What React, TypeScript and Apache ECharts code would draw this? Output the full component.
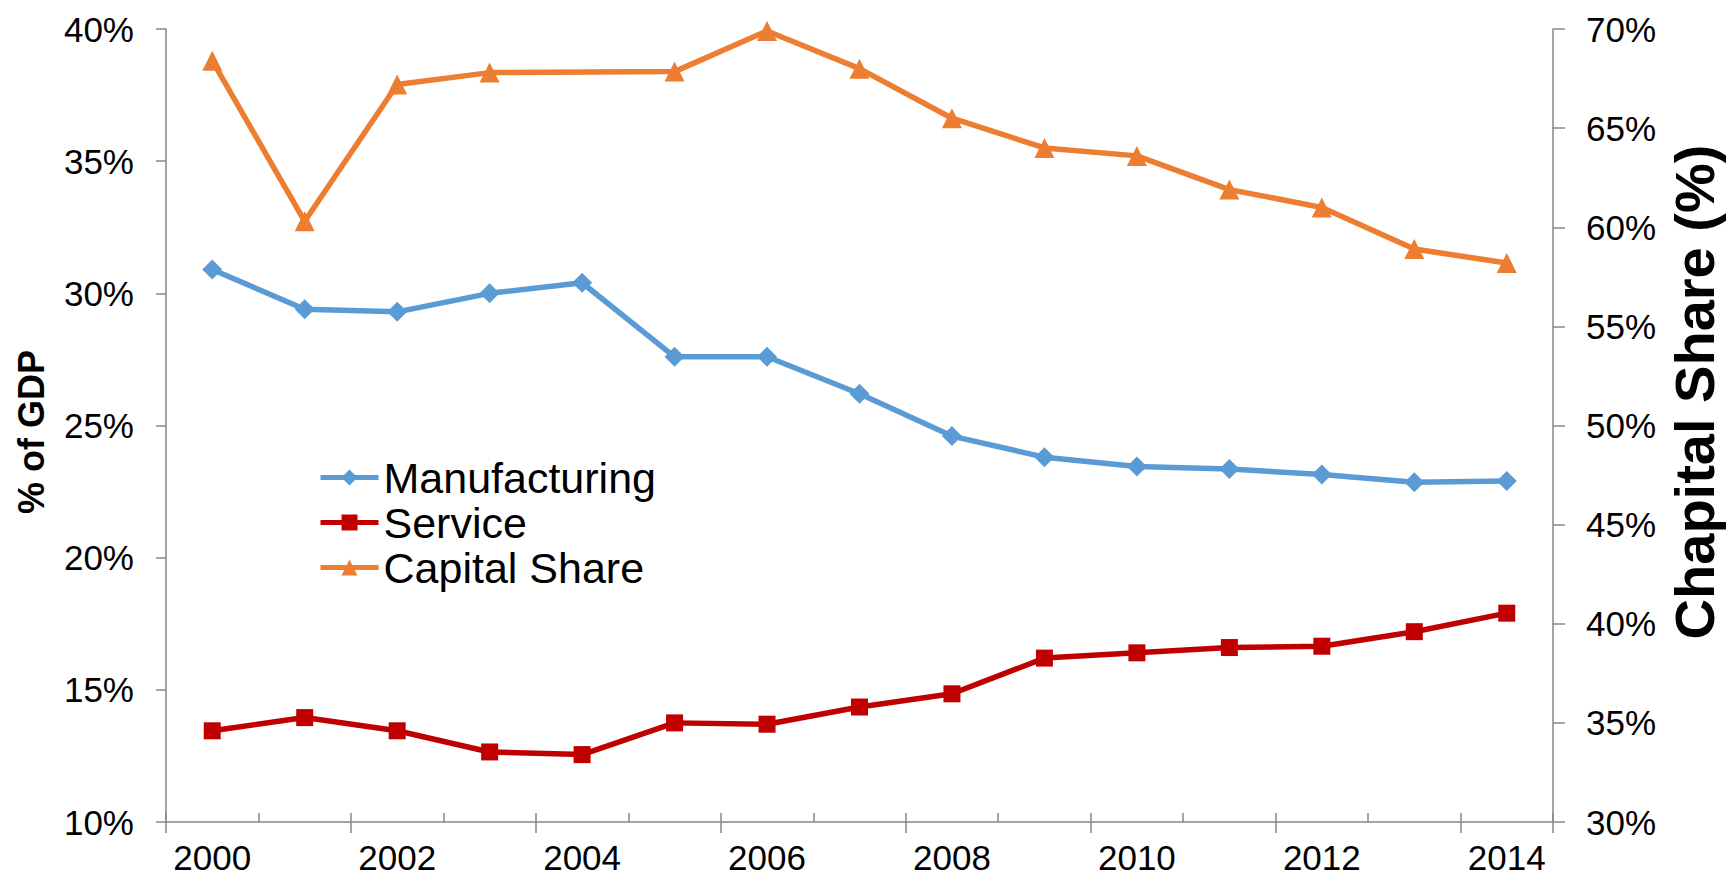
import React, { useEffect, useRef } from "react";
import * as echarts from "echarts";

const years = ["2000", "2001", "2002", "2003", "2004", "2005", "2006", "2007", "2008", "2009", "2010", "2011", "2012", "2013", "2014"];
const manufacturing = [30.9, 29.4, 29.3, 30.0, 30.4, 27.6, 27.6, 26.2, 24.6, 23.8, 23.45, 23.35, 23.15, 22.85, 22.9];
const service = [13.45, 13.95, 13.45, 12.65, 12.55, 13.75, 13.7, 14.35, 14.85, 16.2, 16.4, 16.6, 16.65, 17.2, 17.9];
const capitalShare = [68.4, 60.3, 67.2, 67.8, null, 67.85, 69.9, 68.0, 65.5, 64.0, 63.6, 61.9, 61.0, 58.9, 58.2];

const leftTitle = "% of GDP";
const rightTitle = "Chapital Share (%)";

const FONT = "'Liberation Sans', Arial, sans-serif";
const AXIS_COLOR = "#878787";

export default function App() {
  const ref = useRef<HTMLDivElement>(null);
  useEffect(() => {
    document.body.style.margin = "0";
    const chart = echarts.init(ref.current!, null, { renderer: "svg" });
    const axisLine = { show: true, lineStyle: { color: AXIS_COLOR, width: 1.5 } };
    chart.setOption({
      animation: false,
      backgroundColor: "#ffffff",
      grid: { left: 166, right: 176, top: 29, bottom: 63, containLabel: false },
      legend: {
        orient: "vertical",
        left: 313,
        top: 451,
        itemWidth: 58,
        itemHeight: 20,
        itemGap: 2,
        lineStyle: { width: 5 },
        textStyle: { fontFamily: FONT, fontSize: 43, lineHeight: 43, color: "#000" },
        data: ["Manufacturing", "Service", "Capital Share"],
      },
      xAxis: [
        {
          type: "category",
          data: years,
          position: "bottom",
          boundaryGap: true,
          axisLine,
          axisTick: { show: true, inside: true, length: 9, interval: 0, lineStyle: { color: AXIS_COLOR, width: 1.5 } },
          axisLabel: { interval: 1, margin: 18, fontFamily: FONT, fontSize: 35, color: "#000" },
          splitLine: { show: false },
        },
        {
          type: "category",
          data: years,
          position: "bottom",
          boundaryGap: true,
          axisLine: { show: false },
          axisTick: { show: true, inside: false, length: 11, interval: 1, lineStyle: { color: AXIS_COLOR, width: 1.5 } },
          axisLabel: { show: false },
          splitLine: { show: false },
        },
      ],
      yAxis: [
        {
          type: "value",
          min: 10,
          max: 40,
          interval: 5,
          position: "left",
          axisLine,
          axisTick: { show: true, inside: false, length: 10, lineStyle: { color: AXIS_COLOR, width: 1.5 } },
          axisLabel: { formatter: "{value}%", margin: 32, fontFamily: FONT, fontSize: 35, color: "#000" },
          splitLine: { show: false },
        },
        {
          type: "value",
          min: 30,
          max: 70,
          interval: 5,
          position: "right",
          axisLine,
          axisTick: { show: true, inside: false, length: 12, lineStyle: { color: AXIS_COLOR, width: 1.5 } },
          axisLabel: { formatter: "{value}%", margin: 33, fontFamily: FONT, fontSize: 35, color: "#000" },
          splitLine: { show: false },
        },
      ],
      graphic: [
        {
          type: "text",
          x: 31.5,
          y: 432,
          rotation: Math.PI / 2,
          style: { text: leftTitle, font: `bold 36px ${FONT}`, fill: "#000", textAlign: "center", textVerticalAlign: "middle" },
        },
        {
          type: "text",
          x: 1694,
          y: 392,
          rotation: Math.PI / 2,
          style: { text: rightTitle, font: `bold 56px ${FONT}`, fill: "#000", textAlign: "center", textVerticalAlign: "middle" },
        },
      ],
      series: [
        {
          name: "Manufacturing",
          type: "line",
          xAxisIndex: 0,
          yAxisIndex: 0,
          data: manufacturing,
          symbol: "diamond",
          symbolSize: 20,
          itemStyle: { color: "#5B9BD5" },
          lineStyle: { color: "#5B9BD5", width: 5.5 },
        },
        {
          name: "Service",
          type: "line",
          xAxisIndex: 0,
          yAxisIndex: 0,
          data: service,
          symbol: "rect",
          symbolSize: 17,
          itemStyle: { color: "#C00000" },
          lineStyle: { color: "#C00000", width: 5.5 },
        },
        {
          name: "Capital Share",
          type: "line",
          xAxisIndex: 0,
          yAxisIndex: 1,
          data: capitalShare,
          connectNulls: true,
          symbol: "triangle",
          symbolSize: 20,
          itemStyle: { color: "#ED7D31" },
          lineStyle: { color: "#ED7D31", width: 5.5 },
        },
      ],
    });
    return () => chart.dispose();
  }, []);
  return <div ref={ref} style={{ width: 1729, height: 885 }} />;
}
